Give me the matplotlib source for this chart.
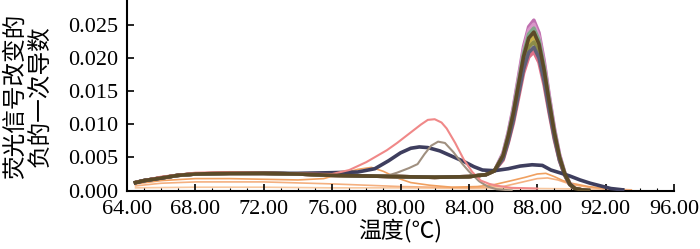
import matplotlib
matplotlib.use("Agg")
import matplotlib.pyplot as plt
from matplotlib.ticker import MultipleLocator

# temperature grid of the main melting peak curves (degC)
t_main = [64.5, 65.0, 66.0, 67.0, 68.0, 70.0, 72.0, 74.0, 76.0, 78.0, 80.0, 82.0, 84.0, 85.0, 85.5,
          86.0, 86.3, 86.6, 86.9, 87.2, 87.5, 87.8, 88.1, 88.4, 88.7, 89.0, 89.3, 89.6, 89.9,
          90.2, 90.6, 91.0]
base = [0.0012, 0.0015, 0.0019, 0.0023, 0.0025, 0.0026, 0.0026, 0.0025, 0.0023, 0.0022, 0.0021,
        0.0020, 0.0021, 0.0024, 0.0030]
tail = [0.0003, 0.0001, 0.0]

peak_a = [0.0057, 0.0088, 0.0126, 0.0172, 0.0218, 0.0248, 0.0258, 0.0239, 0.0197, 0.0144, 0.0095, 0.0055, 0.0028, 0.0011]
peak_b = [0.0056, 0.0086, 0.0123, 0.0168, 0.0213, 0.0243, 0.0252, 0.0233, 0.0192, 0.0141, 0.0092, 0.0054, 0.0027, 0.0011]
peak_c = [0.0054, 0.0084, 0.0120, 0.0164, 0.0208, 0.0237, 0.0246, 0.0228, 0.0188, 0.0137, 0.0090, 0.0052, 0.0027, 0.0010]
peak_d = [0.0053, 0.0082, 0.0117, 0.0160, 0.0203, 0.0231, 0.0240, 0.0222, 0.0183, 0.0134, 0.0088, 0.0051, 0.0026, 0.0010]
peak_e = [0.0051, 0.0080, 0.0113, 0.0155, 0.0197, 0.0224, 0.0233, 0.0215, 0.0178, 0.0130, 0.0085, 0.0049, 0.0025, 0.0010]
peak_f = [0.0050, 0.0077, 0.0110, 0.0150, 0.0191, 0.0217, 0.0225, 0.0209, 0.0172, 0.0126, 0.0083, 0.0048, 0.0024, 0.0009]
peak_g = [0.0048, 0.0074, 0.0106, 0.0145, 0.0184, 0.0209, 0.0217, 0.0201, 0.0166, 0.0121, 0.0080, 0.0046, 0.0024, 0.0009]
peak_h = [0.0046, 0.0072, 0.0102, 0.0140, 0.0178, 0.0202, 0.0210, 0.0194, 0.0160, 0.0117, 0.0077, 0.0045, 0.0023, 0.0009]

main_peaks = [peak_a, peak_b, peak_c, peak_h, peak_e, peak_f, peak_g, peak_d]
main_colors = ["#c070b0", "#d898c8", "#80a888", "#e07088", "#c8b048", "#8c8c48", "#606078", "#5c4a28"]

# dark navy curve
t_navy = [64.5, 65, 66, 67, 68, 70, 72, 74, 76, 77.5, 78.5, 79.3, 80, 80.6, 81.1, 81.6, 82.3, 83,
          83.7, 84.3, 84.8, 85.5, 86.3, 87, 87.7, 88.3, 88.8, 89.3, 89.9, 90.5, 91.1, 91.7, 92.3, 93]
y_navy = [0.0012, 0.0015, 0.0019, 0.0023, 0.0025, 0.0026, 0.0026, 0.0026, 0.0027, 0.0028, 0.0033,
          0.0045, 0.0057, 0.0064, 0.0066, 0.0065, 0.0060, 0.0052, 0.0044, 0.0036, 0.0031, 0.0030,
          0.0033, 0.0037, 0.0039, 0.0038, 0.0031, 0.0027, 0.0022, 0.0016, 0.0011, 0.0007, 0.0003, 0.0001]

# salmon curve
t_pink = [64.5, 66, 68, 70, 72, 74, 76, 77, 78, 79.2, 79.8, 80.6, 81.2, 81.6, 82.0, 82.4, 82.7,
          83.2, 83.7, 84.2, 84.7, 85.2, 85.7, 86.5, 88]
y_pink = [0.0013, 0.0021, 0.0027, 0.0028, 0.0027, 0.0026, 0.0025, 0.0031, 0.0043, 0.0061, 0.0072,
          0.0088, 0.0100, 0.0107, 0.0108, 0.0103, 0.0094, 0.0072, 0.0047, 0.0028, 0.0015, 0.0010,
          0.0007, 0.0004, 0.0003]

# grey-brown curve
t_grey = [64.5, 66, 68, 72, 76, 78, 79.3, 79.8, 80.5, 81, 81.4, 81.8, 82.2, 82.6, 83.1, 83.6, 84,
          84.6, 85.1, 85.6, 86.5]
y_grey = [0.0012, 0.0019, 0.0024, 0.0025, 0.0023, 0.0022, 0.0023, 0.0027, 0.0034, 0.0040, 0.0055,
          0.0068, 0.0074, 0.0072, 0.0058, 0.0041, 0.0029, 0.0014, 0.0006, 0.0002, 0.0]

# orange curves
t_or1 = [64.5, 66, 68, 70, 72, 74, 75.5, 76.5, 77.5, 78.3, 79, 79.8, 80.6, 81.7, 83, 84.5, 85.5,
         86.5, 87.3, 88, 88.5, 89, 89.5, 90, 91, 92, 93]
y_or1 = [0.0010, 0.0015, 0.0018, 0.0018, 0.0017, 0.0016, 0.0018, 0.0025, 0.0032, 0.0035, 0.0029,
         0.0019, 0.0012, 0.0008, 0.0005, 0.0006, 0.0009, 0.0015, 0.0020, 0.0025, 0.0026, 0.0021,
         0.0015, 0.0011, 0.0006, 0.0003, 0.0001]
t_or2 = [64.5, 66, 68, 72, 76, 80, 84, 86, 87, 88, 88.6, 89.2, 90, 91, 92, 93.5]
y_or2 = [0.0007, 0.0011, 0.0013, 0.0013, 0.0010, 0.0006, 0.0004, 0.0006, 0.0012, 0.0018, 0.0019,
         0.0016, 0.0009, 0.0005, 0.0002, 0.0001]
t_or3 = [64.5, 68, 72, 76, 80, 84, 88, 92, 93.5]
y_or3 = [0.0004, 0.0005, 0.0005, 0.0004, 0.0004, 0.0003, 0.0003, 0.0002, 0.0001]

x_ticks = [64, 68, 72, 76, 80, 84, 88, 92, 96]
y_ticks = [0.000, 0.005, 0.010, 0.015, 0.020, 0.025]

serif = "Liberation Serif"
cjk = ["Noto Sans CJK SC", "DejaVu Sans"]

fig = plt.figure(figsize=(7.0, 2.49), dpi=100)
ax = fig.add_axes([127 / 700, 58.5 / 249, 547 / 700, 190.5 / 249])

ax.plot(t_or3, y_or3, color="#f8c8a0", lw=1.2, zorder=1)
ax.plot(t_or2, y_or2, color="#f4b080", lw=1.2, zorder=1)
ax.plot(t_or1, y_or1, color="#f0a060", lw=1.2, zorder=1)

for pk, c in zip(main_peaks[:-1], main_colors[:-1]):
    ax.plot(t_main, base + pk + tail, color=c, lw=2.6, zorder=2)
ax.plot(t_navy, y_navy, color="#3e3e5e", lw=2.6, zorder=3)
ax.plot(t_grey, y_grey, color="#a09080", lw=1.5, zorder=4)
ax.plot(t_pink, y_pink, color="#f08888", lw=1.5, zorder=4)
ax.plot(t_main, base + main_peaks[-1] + tail, color=main_colors[-1], lw=2.6, zorder=5)

ax.set_xlim(64, 96)
ax.set_ylim(0, 0.02886)
ax.set_xticks(x_ticks)
ax.set_xticklabels([f"{v:.2f}" for v in x_ticks], fontfamily=serif, fontsize=16)
ax.set_yticks(y_ticks)
ax.set_yticklabels([f"{v:.3f}" for v in y_ticks], fontfamily=serif, fontsize=16)
ax.xaxis.set_minor_locator(MultipleLocator(1))
ax.tick_params(axis="both", which="major", direction="in", length=5, width=1.2)
ax.tick_params(axis="y", which="major", pad=6)
ax.tick_params(axis="x", which="major", pad=6.5)
ax.tick_params(axis="x", which="minor", direction="in", length=2, width=0.8)
for s in ["top", "right"]:
    ax.spines[s].set_visible(False)
for s in ["left", "bottom"]:
    ax.spines[s].set_linewidth(1.5)

ax.set_xlabel("温度(℃)", family=cjk, fontsize=16.5, labelpad=0)
fig.text(27.5 / 700, 1 - 96 / 249, "荧光信号改变的\n负的一次导数", family=cjk, fontsize=17,
         rotation=90, ha="center", va="center", linespacing=1.1, multialignment="center")

fig.savefig("out.png", dpi=100)
